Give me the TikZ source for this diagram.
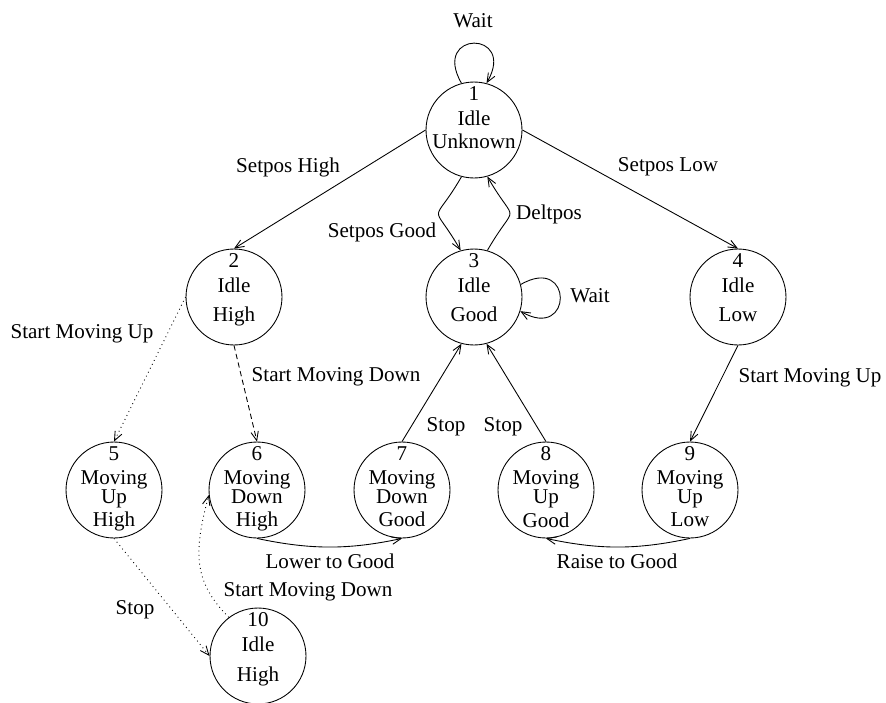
\documentclass[tikz,border=0pt]{standalone}
\usepackage{fontspec}
\setmainfont{Liberation Serif}
\usetikzlibrary{arrows.meta}

\begin{document}
\begin{tikzpicture}[x=0.02cm,y=-0.02cm,line width=0.5pt,
  state/.style={draw,circle,minimum size=1.92cm,inner sep=0pt},
  statetext/.style={anchor=north,align=center,inner sep=0pt,font=\fontsize{12pt}{14.23pt}\selectfont},
  lbl/.style={inner sep=0pt,font=\fontsize{12pt}{14.23pt}\selectfont},
  arr/.style={-{Straight Barb[length=1.8mm,width=1.5mm]}}]

\useasboundingbox (0,0) rectangle (886,703);

% states:
\node[state] (s1) at (474,130) {};
\node[state] (s2) at (234,297) {};
\node[state] (s3) at (474,297) {};
\node[state] (s4) at (738,297) {};
\node[state] (s5) at (114,490) {};
\node[state] (s6) at (257,490) {};
\node[state] (s7) at (402,490) {};
\node[state] (s8) at (546,490) {};
\node[state] (s9) at (690,490) {};
\node[state] (s10) at (258,656) {};
\node[statetext] (t1) at ([yshift=0.87cm]s1.center) {1\\Idle\\[-1.1pt]Unknown};
\node[statetext] (t2) at ([yshift=0.87cm]s2.center) {2\\Idle\\[2.3pt]High};
\node[statetext] (t3) at ([yshift=0.87cm]s3.center) {3\\Idle\\[2.3pt]Good};
\node[statetext] (t4) at ([yshift=0.87cm]s4.center) {4\\Idle\\[2.3pt]Low};
\node[statetext] (t5) at ([yshift=0.87cm]s5.center) {5\\[-0.6pt]Moving\\[-3.4pt]Up\\[-1.1pt]High};
\node[statetext] (t6) at ([yshift=0.87cm]s6.center) {6\\[-0.6pt]Moving\\[-3.4pt]Down\\[-1.1pt]High};
\node[statetext] (t7) at ([yshift=0.87cm]s7.center) {7\\[-0.6pt]Moving\\[-3.4pt]Down\\[-1.1pt]Good};
\node[statetext] (t8) at ([yshift=0.87cm]s8.center) {8\\[-0.6pt]Moving\\[-3.4pt]Up\\[-1.1pt]Good};
\node[statetext] (t9) at ([yshift=0.87cm]s9.center) {9\\[-0.6pt]Moving\\[-3.4pt]Up\\[-1.1pt]Low};
\node[statetext] (t10) at ([yshift=0.87cm]s10.center) {10\\Idle\\[2.3pt]High};

% transitions:
\draw[arr] (s1.105) .. controls +(120:1.23cm) and +(60:1.23cm) .. (s1.75);
\draw[arr] (s1.west) -- (s2.north);
\draw[arr] (s1.east) -- (s4.north);
\draw[arr] (s1.255) .. controls +(240:1.2cm) and +(120:1.2cm) .. (s3.106);
\draw[arr] (s3.74) .. controls +(60:1.2cm) and +(-60:1.2cm) .. (s1.-74);
\draw[arr] (s3.15) .. controls +(30:1.22cm) and +(-30:1.22cm) .. (s3.-17);
\draw[arr,dotted] (s2.west) -- (s5.north);
\draw[arr,dash pattern=on 3pt off 2pt] (s2.south) -- (s6.north);
\draw[arr] (s4.south) -- (s9.north);
\draw[arr] (s7.north) -- (s3.255);
\draw[arr] (s8.north) -- (s3.285);
\draw[arr] (s6.south) .. controls +(-12:1.1cm) and +(192:1.1cm) .. (s7.south);
\draw[arr] (s9.south) .. controls +(192:1.1cm) and +(-12:1.1cm) .. (s8.south);
\draw[arr,dotted] (s5.south) -- (s10.west);
\draw[arr,dotted] (s10.127) .. controls +(135:1cm) and +(255:1.2cm) .. (s6.186);

% labels:
\node[lbl] (wait1) at (473,21) {Wait};
\node[lbl] (sethigh) at (288,167) {Setpos High};
\node[lbl] (setlow) at (668,167) {Setpos Low};
\node[lbl] (setgood) at (382,232) {Setpos Good};
\node[lbl] (deltpos) at (549,214) {Deltpos};
\node[lbl] (wait3) at (590,296) {Wait};
\node[lbl] (upleft) at (82,334) {Start Moving Up};
\node[lbl] (downupper) at (336,377) {Start Moving Down};
\node[lbl] (upright) at (810,378) {Start Moving Up};
\node[lbl] (stop7) at (446,427) {Stop};
\node[lbl] (stop8) at (503,427) {Stop};
\node[lbl] (lower) at (330,561) {Lower to Good};
\node[lbl] (raise) at (617,561) {Raise to Good};
\node[lbl] (downlower) at (308,592) {Start Moving Down};
\node[lbl] (stop5) at (135,610) {Stop};

\end{tikzpicture}
\end{document}
